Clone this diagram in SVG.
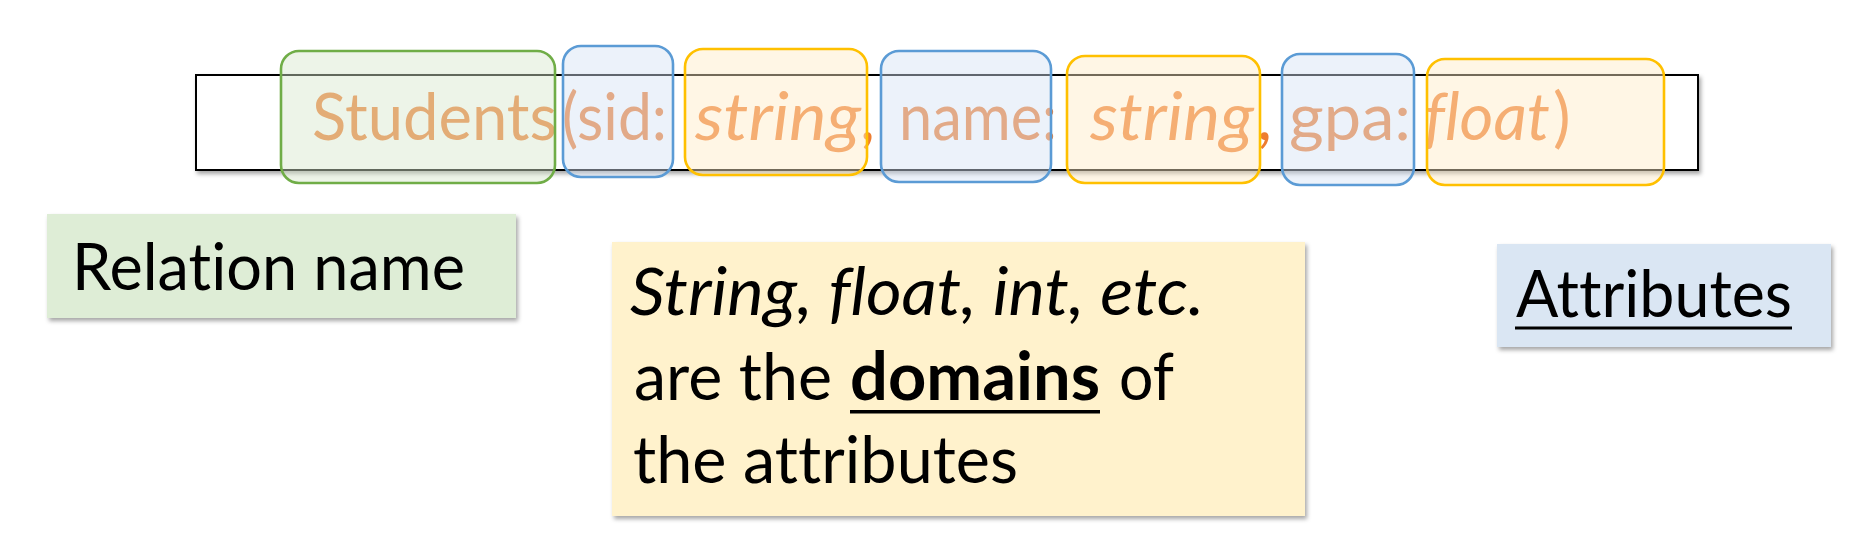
<svg xmlns="http://www.w3.org/2000/svg" width="1858" height="536" viewBox="0 0 1858 536">
<defs>
<filter id="sh" x="-5%" y="-10%" width="112%" height="125%">
<feDropShadow dx="2" dy="3" stdDeviation="2" flood-color="#000" flood-opacity="0.35"/>
</filter>
<style>
.t{font-family:Lato,"Liberation Sans",sans-serif;font-size:66px;font-variant-ligatures:none;font-feature-settings:"liga" 0,"dlig" 0}
.top{fill:#ED7D31}
.i{font-style:italic}
.b{font-weight:bold}
.k{fill:#000}
.hl{stroke-width:2.6}
.g{fill:#D7E6CC;fill-opacity:0.45;stroke:#70AD47}
.bl{fill:#D5E2F4;fill-opacity:0.45;stroke:#5B9BD5}
.o{fill:#FFEBC5;fill-opacity:0.45;stroke:#FFC000}
</style>
</defs>
<rect width="1858" height="536" fill="#fff"/>
<g id="relation">
<rect x="196" y="75" width="1502" height="95" fill="#fff" stroke="#000" stroke-width="2" filter="url(#sh)"/>
<text class="t top" x="312" y="140" textLength="245" lengthAdjust="spacingAndGlyphs">Students</text>
<text class="t top" x="562" y="140" textLength="105" lengthAdjust="spacingAndGlyphs">(sid:</text>
<text class="t top i" x="695" y="140" textLength="166" lengthAdjust="spacingAndGlyphs">string</text>
<text class="t top" x="860" y="140">,</text>
<text class="t top" x="899" y="140" textLength="158" lengthAdjust="spacingAndGlyphs">name:</text>
<text class="t top i" x="1090" y="140" textLength="164" lengthAdjust="spacingAndGlyphs">string</text>
<text class="t top" x="1257" y="140">,</text>
<text class="t top" x="1289" y="140" textLength="122" lengthAdjust="spacingAndGlyphs">gpa:</text>
<text class="t top i" x="1424" y="140" textLength="126" lengthAdjust="spacingAndGlyphs">float</text>
<text class="t top" x="1553" y="140">)</text>
</g>
<g id="highlights" class="hl">
<rect class="g" x="281" y="51" width="274" height="132" rx="18"/>
<rect class="bl" x="563" y="46" width="110" height="131" rx="18"/>
<rect class="o" x="685" y="49" width="182" height="126" rx="18"/>
<rect class="bl" x="881" y="51" width="170" height="131" rx="18"/>
<rect class="o" x="1067" y="56" width="193" height="127" rx="18"/>
<rect class="bl" x="1282" y="54" width="132" height="131" rx="18"/>
<rect class="o" x="1427" y="59" width="237" height="126" rx="18"/>
</g>
<g id="relation-name">
<rect x="47" y="214" width="469" height="104" fill="#DEEDD6" filter="url(#sh)"/>
<text class="t k" x="72" y="290" textLength="393" lengthAdjust="spacingAndGlyphs">Relation name</text>
</g>
<g id="domains">
<rect x="612" y="242" width="693" height="274" fill="#FFF2CC" filter="url(#sh)"/>
<text class="t k i" x="630" y="315" textLength="574" lengthAdjust="spacingAndGlyphs">String, float, int, etc.</text>
<text class="t k" x="634" y="400" textLength="198" lengthAdjust="spacingAndGlyphs">are the</text>
<text class="t k b" x="850" y="400" textLength="250" lengthAdjust="spacingAndGlyphs">domains</text>
<rect x="850" y="410" width="250" height="3.5" fill="#000"/>
<text class="t k" x="1119" y="400" textLength="55" lengthAdjust="spacingAndGlyphs">of</text>
<text class="t k" x="633" y="483" textLength="385" lengthAdjust="spacingAndGlyphs">the attributes</text>
</g>
<g id="attributes">
<rect x="1497" y="244" width="334" height="103" fill="#DAE6F3" filter="url(#sh)"/>
<text class="t k" x="1516" y="317" textLength="276" lengthAdjust="spacingAndGlyphs">Attributes</text>
<rect x="1515" y="326.5" width="277" height="3" fill="#000"/>
</g>
<g id="connectors"/>
</svg>
